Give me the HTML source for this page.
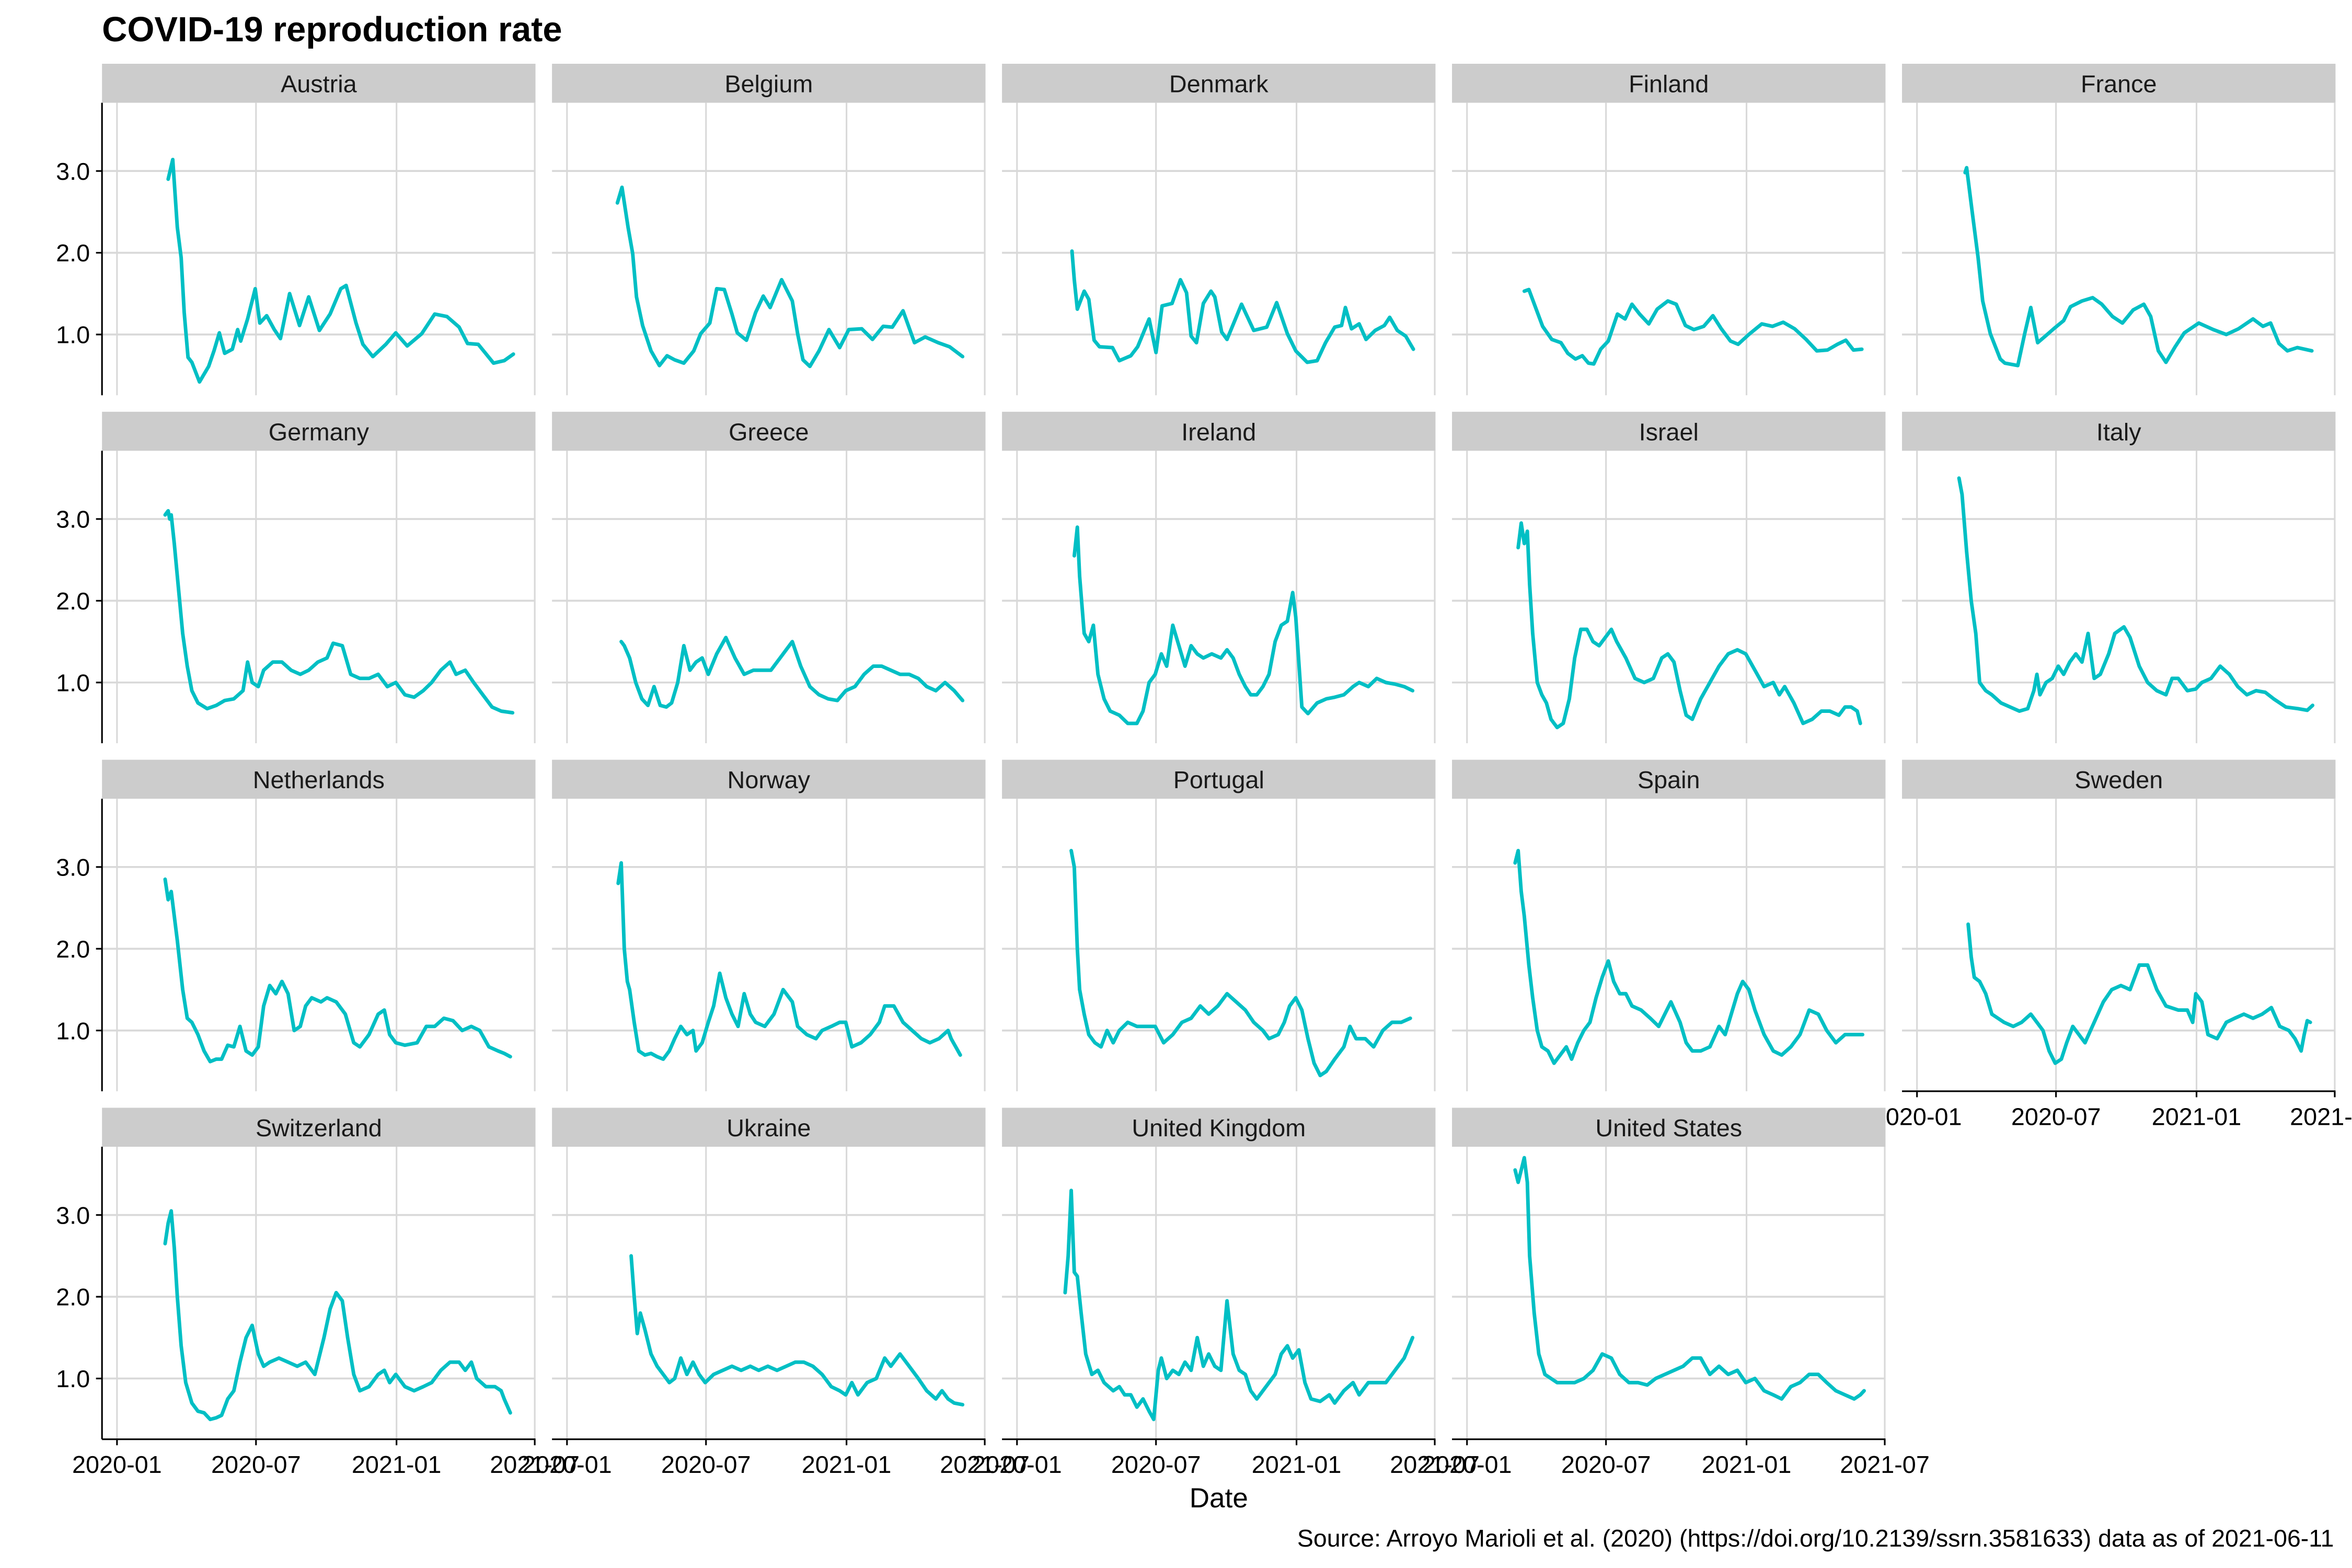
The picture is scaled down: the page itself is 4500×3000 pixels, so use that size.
<!DOCTYPE html>
<html><head><meta charset="utf-8"><style>
html,body{margin:0;padding:0;background:#fff;}
svg{display:block;font-family:"Liberation Sans",Arial,sans-serif;}
</style></head><body>
<svg id="chart" xmlns="http://www.w3.org/2000/svg" width="4500" height="3000" viewBox="0 0 1568 1045.33">
<rect x="0" y="0" width="1568" height="1045.33" fill="#fff"/>
<text x="68" y="27.5" font-size="23.3" font-weight="bold" fill="#000">COVID-19 reproduction rate</text>
<g id="panels"></g>
<text x="812.5" y="1005" font-size="18.5" text-anchor="middle" fill="#000">Date</text>
<text x="1556" y="1031" font-size="16.2" text-anchor="end" fill="#000">Source: Arroyo Marioli et al. (2020) (https://doi.org/10.2139/ssrn.3581633) data as of 2021-06-11</text>
</svg>
<script>
// Days since 2020-01-01 and reproduction rate values per country
const countries = ["Austria","Belgium","Denmark","Finland","France","Germany","Greece","Ireland","Israel","Italy","Netherlands","Norway","Portugal","Spain","Sweden","Switzerland","Ukraine","United Kingdom","United States"];
const yTicks = [1.0, 2.0, 3.0];
const yTickLabels = ["1.0", "2.0", "3.0"];
const xTickDates = ["2020-01-01", "2020-07-01", "2021-01-01", "2021-07-01"];
const xTickLabels = ["2020-01", "2020-07", "2021-01", "2021-07"];

const austriaDays = [67,73,79,84,88,93,98,108,120,127,134,141,151,158,162,171,181,187,196,206,214,226,239,251,265,279,293,300,313,322,335,352,365,380,399,416,432,448,459,473,493,507,519];
const austriaValues = [2.9,3.14,2.31,1.94,1.27,0.72,0.66,0.42,0.61,0.8,1.02,0.77,0.82,1.06,0.92,1.19,1.56,1.14,1.23,1.06,0.95,1.5,1.11,1.46,1.05,1.25,1.56,1.6,1.14,0.88,0.73,0.88,1.02,0.86,1.01,1.25,1.22,1.09,0.89,0.88,0.65,0.68,0.76];
const belgiumDays = [66,72,80,86,91,99,110,121,131,141,153,166,175,187,196,206,216,223,235,247,257,266,281,295,302,309,318,330,343,357,369,386,400,414,426,440,455,469,486,501,518];
const belgiumValues = [2.61,2.8,2.31,1.99,1.46,1.11,0.8,0.62,0.74,0.69,0.65,0.8,1.01,1.14,1.56,1.55,1.25,1.02,0.93,1.27,1.47,1.33,1.67,1.41,1.01,0.69,0.61,0.8,1.06,0.84,1.06,1.07,0.94,1.1,1.09,1.29,0.9,0.97,0.9,0.85,0.73];
const denmarkDays = [72,75,79,88,94,101,108,125,134,149,158,173,182,190,203,214,222,228,235,244,254,259,268,275,294,310,327,340,354,365,380,393,404,416,425,430,438,448,457,469,481,488,498,509,519];
const denmarkValues = [2.02,1.67,1.31,1.53,1.43,0.93,0.85,0.84,0.68,0.74,0.85,1.19,0.78,1.35,1.38,1.67,1.51,0.98,0.9,1.38,1.53,1.46,1.03,0.94,1.37,1.05,1.09,1.39,1.01,0.8,0.66,0.68,0.9,1.09,1.11,1.33,1.07,1.13,0.94,1.05,1.11,1.21,1.05,0.98,0.82];
const finlandDays = [75,81,89,99,111,123,132,142,151,159,166,175,185,197,207,216,226,238,249,263,274,286,297,310,322,333,345,355,369,386,400,414,429,444,458,472,485,496,506,517];
const finlandValues = [1.53,1.55,1.35,1.1,0.94,0.9,0.77,0.7,0.74,0.65,0.64,0.82,0.92,1.25,1.19,1.37,1.25,1.13,1.31,1.41,1.37,1.11,1.06,1.1,1.23,1.07,0.92,0.88,1.0,1.13,1.1,1.15,1.07,0.94,0.8,0.81,0.88,0.93,0.81,0.82];
const franceDays = [63,65,72,80,86,96,109,115,132,141,149,158,168,179,192,201,216,230,242,256,269,283,297,306,316,326,338,350,369,388,405,421,440,453,463,474,485,498,517];
const franceValues = [2.98,3.04,2.52,1.94,1.41,1.01,0.7,0.65,0.62,1.01,1.33,0.9,0.98,1.07,1.17,1.34,1.41,1.45,1.37,1.22,1.14,1.3,1.37,1.22,0.8,0.66,0.85,1.02,1.14,1.06,1.0,1.07,1.19,1.1,1.14,0.89,0.8,0.84,0.8];
const germanyDays = [63,67,69,71,75,81,86,92,98,106,118,130,141,153,165,171,177,185,192,204,216,228,240,251,263,275,283,295,306,318,330,342,354,365,377,389,401,412,424,436,444,456,467,479,491,503,518];
const germanyValues = [3.05,3.1,3.0,3.05,2.7,2.1,1.6,1.2,0.9,0.75,0.68,0.72,0.78,0.8,0.9,1.25,1.0,0.95,1.15,1.25,1.25,1.15,1.1,1.15,1.25,1.3,1.48,1.45,1.1,1.05,1.05,1.1,0.95,1.0,0.85,0.82,0.9,1.0,1.15,1.25,1.1,1.15,1.0,0.85,0.7,0.65,0.63];
const greeceDays = [71,75,82,90,98,106,114,122,130,137,145,153,161,169,177,185,196,208,220,232,244,255,267,279,295,306,318,330,342,354,365,377,389,401,412,424,436,448,460,471,483,495,507,518];
const greeceValues = [1.5,1.45,1.3,1.0,0.8,0.72,0.95,0.72,0.7,0.75,1.0,1.45,1.15,1.25,1.3,1.1,1.35,1.55,1.3,1.1,1.15,1.15,1.15,1.3,1.5,1.2,0.95,0.85,0.8,0.78,0.9,0.95,1.1,1.2,1.2,1.15,1.1,1.1,1.05,0.95,0.9,1.0,0.9,0.78];
const irelandDays = [75,79,82,88,94,100,106,114,122,134,145,157,165,173,181,189,196,204,212,220,228,236,244,255,267,275,283,291,299,306,314,322,330,338,346,354,361,365,373,381,393,405,416,428,440,448,460,471,483,495,507,518];
const irelandValues = [2.55,2.9,2.3,1.6,1.5,1.7,1.1,0.8,0.65,0.6,0.5,0.5,0.65,1.0,1.1,1.35,1.2,1.7,1.45,1.2,1.45,1.35,1.3,1.35,1.3,1.4,1.3,1.1,0.95,0.85,0.85,0.95,1.1,1.5,1.7,1.75,2.1,1.8,0.7,0.62,0.75,0.8,0.82,0.85,0.95,1.0,0.95,1.05,1.0,0.98,0.95,0.9];
const israelDays = [67,71,75,79,82,86,92,98,104,110,118,126,134,141,149,157,165,173,181,189,196,208,220,232,244,255,263,271,279,287,295,306,318,330,342,354,365,377,389,401,409,416,428,440,452,464,475,487,495,503,511,515];
const israelValues = [2.65,2.95,2.7,2.85,2.2,1.6,1.0,0.85,0.75,0.55,0.45,0.5,0.8,1.3,1.65,1.65,1.5,1.45,1.55,1.65,1.5,1.3,1.05,1.0,1.05,1.3,1.35,1.25,0.9,0.6,0.55,0.8,1.0,1.2,1.35,1.4,1.35,1.15,0.95,1.0,0.85,0.95,0.75,0.5,0.55,0.65,0.65,0.6,0.7,0.7,0.65,0.5];
const italyDays = [55,59,65,71,77,82,90,98,110,122,134,145,153,157,161,169,177,185,192,200,208,216,224,232,240,251,259,271,279,291,302,314,326,334,342,354,365,373,385,397,409,420,432,444,456,467,483,499,511,518];
const italyValues = [3.5,3.3,2.6,2.0,1.6,1.0,0.9,0.85,0.75,0.7,0.65,0.68,0.9,1.1,0.85,1.0,1.05,1.2,1.1,1.25,1.35,1.25,1.6,1.05,1.1,1.35,1.6,1.68,1.55,1.2,1.0,0.9,0.85,1.05,1.05,0.9,0.92,1.0,1.05,1.2,1.1,0.95,0.85,0.9,0.88,0.8,0.7,0.68,0.66,0.72];
const netherlandsDays = [63,67,71,79,86,92,98,106,114,122,130,137,145,153,161,169,177,185,192,200,208,216,224,232,240,247,255,267,275,287,299,310,318,330,342,350,357,365,377,393,405,416,428,440,452,464,475,487,499,507,515];
const netherlandsValues = [2.85,2.6,2.7,2.1,1.5,1.15,1.1,0.95,0.75,0.62,0.65,0.65,0.82,0.8,1.05,0.75,0.7,0.8,1.3,1.55,1.45,1.6,1.45,1.0,1.05,1.3,1.4,1.35,1.4,1.35,1.2,0.85,0.8,0.95,1.2,1.25,0.95,0.85,0.82,0.85,1.05,1.05,1.15,1.12,1.0,1.05,1.0,0.8,0.75,0.72,0.68];
const norwayDays = [67,71,75,79,82,88,94,102,110,118,126,134,141,149,157,165,169,177,185,192,200,208,216,224,232,240,247,259,271,283,295,302,314,326,334,346,357,365,373,385,397,409,416,428,440,452,464,475,487,499,503,515];
const norwayValues = [2.8,3.05,2.0,1.6,1.5,1.1,0.75,0.7,0.72,0.68,0.65,0.75,0.9,1.05,0.95,1.0,0.75,0.85,1.1,1.3,1.7,1.4,1.2,1.05,1.45,1.2,1.1,1.05,1.2,1.5,1.35,1.05,0.95,0.9,1.0,1.05,1.1,1.1,0.8,0.85,0.95,1.1,1.3,1.3,1.1,1.0,0.9,0.85,0.9,1.0,0.9,0.7];
const portugalDays = [71,75,79,82,88,94,102,110,118,126,134,145,157,169,181,192,204,216,228,240,251,263,275,287,299,310,322,330,342,350,357,365,373,381,389,397,405,416,428,436,444,456,467,479,491,503,515];
const portugalValues = [3.2,3.0,2.0,1.5,1.2,0.95,0.85,0.8,1.0,0.85,1.0,1.1,1.05,1.05,1.05,0.85,0.95,1.1,1.15,1.3,1.2,1.3,1.45,1.35,1.25,1.1,1.0,0.9,0.95,1.1,1.3,1.4,1.25,0.9,0.6,0.45,0.5,0.65,0.8,1.05,0.9,0.9,0.8,1.0,1.1,1.1,1.15];
const spainDays = [63,67,71,75,81,86,92,98,106,114,122,130,137,145,153,161,169,177,185,192,200,208,216,228,240,251,259,267,279,287,295,306,318,330,338,346,354,361,369,377,389,401,412,424,436,448,460,471,483,495,511,518];
const spainValues = [3.05,3.2,2.7,2.4,1.8,1.4,1.0,0.8,0.75,0.6,0.7,0.8,0.65,0.85,1.0,1.1,1.4,1.65,1.85,1.6,1.45,1.45,1.3,1.25,1.15,1.05,1.2,1.35,1.1,0.85,0.75,0.75,0.8,1.05,0.95,1.2,1.45,1.6,1.5,1.25,0.95,0.75,0.7,0.8,0.95,1.25,1.2,1.0,0.85,0.95,0.95,0.95];
const swedenDays = [67,71,75,82,90,98,106,114,126,137,149,157,165,173,181,189,196,204,212,220,232,244,255,267,279,291,302,314,326,342,354,361,365,373,381,393,405,416,428,440,452,464,475,487,495,503,507,511,515];
const swedenValues = [2.3,1.9,1.65,1.6,1.45,1.2,1.15,1.1,1.05,1.1,1.2,1.1,1.0,0.75,0.6,0.65,0.85,1.05,0.95,0.85,1.1,1.35,1.5,1.55,1.5,1.8,1.8,1.5,1.3,1.25,1.25,1.1,1.45,1.35,0.95,0.9,1.1,1.15,1.2,1.15,1.2,1.28,1.05,1.0,0.9,0.75,0.95,1.12,1.1];
const switzerlandDays = [63,67,71,75,79,84,90,98,106,114,122,130,137,145,153,161,169,177,185,192,200,212,224,236,247,259,271,279,287,295,302,310,318,330,342,350,357,365,377,389,401,412,424,436,448,456,464,471,483,495,503,507,515];
const switzerlandValues = [2.65,2.9,3.05,2.6,2.0,1.4,0.95,0.7,0.6,0.58,0.5,0.52,0.55,0.75,0.85,1.2,1.5,1.65,1.3,1.15,1.2,1.25,1.2,1.15,1.2,1.05,1.5,1.85,2.05,1.95,1.5,1.05,0.85,0.9,1.05,1.1,0.95,1.05,0.9,0.85,0.9,0.95,1.1,1.2,1.2,1.1,1.2,1.0,0.9,0.9,0.85,0.75,0.58];
const ukraineDays = [84,88,92,96,102,110,118,126,134,141,149,157,165,173,181,192,204,216,228,240,251,263,275,287,299,310,322,334,346,357,365,373,381,393,405,416,424,436,448,460,471,483,491,499,507,518];
const ukraineValues = [2.5,2.0,1.55,1.8,1.6,1.3,1.15,1.05,0.95,1.0,1.25,1.05,1.2,1.05,0.95,1.05,1.1,1.15,1.1,1.15,1.1,1.15,1.1,1.15,1.2,1.2,1.15,1.05,0.9,0.85,0.8,0.95,0.8,0.95,1.0,1.25,1.15,1.3,1.15,1.0,0.85,0.75,0.85,0.75,0.7,0.68];
const ukDays = [63,67,71,75,79,84,90,98,106,114,126,134,141,149,157,165,173,179,185,189,196,204,212,220,228,236,244,251,259,267,275,283,291,299,306,314,326,338,346,354,361,369,377,385,397,409,416,428,440,448,460,471,483,495,507,518];
const ukValues = [2.05,2.5,3.3,2.3,2.25,1.8,1.3,1.05,1.1,0.95,0.85,0.9,0.8,0.8,0.65,0.75,0.6,0.5,1.1,1.25,1.0,1.1,1.05,1.2,1.1,1.5,1.15,1.3,1.15,1.1,1.95,1.3,1.1,1.05,0.85,0.75,0.9,1.05,1.3,1.4,1.25,1.35,0.95,0.75,0.72,0.8,0.7,0.85,0.95,0.8,0.95,0.95,0.95,1.1,1.25,1.5];
const usDays = [63,67,71,75,79,82,88,94,102,110,118,130,141,153,165,177,189,200,212,224,236,247,259,271,283,295,306,318,330,342,354,365,377,389,401,412,424,436,448,460,471,483,495,507,515,520];
const usValues = [3.55,3.4,3.55,3.7,3.4,2.5,1.8,1.3,1.05,1.0,0.95,0.95,0.95,1.0,1.1,1.3,1.25,1.05,0.95,0.95,0.92,1.0,1.05,1.1,1.15,1.25,1.25,1.05,1.15,1.05,1.1,0.95,1.0,0.85,0.8,0.75,0.9,0.95,1.05,1.05,0.95,0.85,0.8,0.75,0.8,0.85];

const seriesDays = [austriaDays,belgiumDays,denmarkDays,finlandDays,franceDays,germanyDays,greeceDays,irelandDays,israelDays,italyDays,netherlandsDays,norwayDays,portugalDays,spainDays,swedenDays,switzerlandDays,ukraineDays,ukDays,usDays];
const seriesValues = [austriaValues,belgiumValues,denmarkValues,finlandValues,franceValues,germanyValues,greeceValues,irelandValues,israelValues,italyValues,netherlandsValues,norwayValues,portugalValues,spainValues,swedenValues,switzerlandValues,ukraineValues,ukValues,usValues];

const NS = "http://www.w3.org/2000/svg";
const root = document.getElementById("panels");
const PW = 289, PH = 195, SH = 26;
const DAY0 = Date.UTC(2020,0,1);
function dateToDay(s){ const p=s.split("-"); return (Date.UTC(+p[0],+p[1]-1,+p[2]) - DAY0)/86400000; }
const X_LEFT_DAY = dateToDay("2020-01-01"), X_RIGHT_DAY = dateToDay("2021-07-01");
function xScale(day, left){ return left + 10 + (day - X_LEFT_DAY) / (X_RIGHT_DAY - X_LEFT_DAY) * 278.5; }
function yScale(v, top){ return top + 154.5 - (v - 1) * 54.5; }
function mk(tag, attrs, parent){ const e=document.createElementNS(NS,tag); for(const k in attrs) e.setAttribute(k,attrs[k]); parent.appendChild(e); return e; }

countries.forEach(function(name, i){
  const col = i % 5, row = Math.floor(i / 5);
  const left = 68 + col * 300;
  const stripTop = 42.5 + row * 232;
  const top = stripTop + SH;
  const slug = name.toLowerCase().replace(/ /g, "-");
  const g = mk("g", {}, root);
  
  
  const strip = mk("rect", {x:left, y:stripTop, width:PW, height:SH, fill:"#cccccc"}, g);
  
  
  const st = mk("text", {x:left + PW/2, y:stripTop + 19, "font-size":16.3, "text-anchor":"middle", fill:"#1a1a1a"}, g);
  st.textContent = name;
  
  
  yTicks.forEach(function(t){
    const y = yScale(t, top);
    const gl = mk("line", {x1:left, x2:left+PW, y1:y, y2:y, stroke:"#d9d9d9", "stroke-width":1.3}, g);
    
    
  });
  xTickDates.forEach(function(d){
    const x = xScale(dateToDay(d), left);
    const gl = mk("line", {x1:x, x2:x, y1:top, y2:top+PH, stroke:"#d9d9d9", "stroke-width":1.1}, g);
    
    
  });
  const days = seriesDays[i], vals = seriesValues[i];
  const n = Math.min(days.length, vals.length);
  let dstr = "";
  for (let k = 0; k < n; k++) dstr += (k ? "L" : "M") + xScale(days[k], left).toFixed(2) + "," + yScale(vals[k], top).toFixed(2);
  const path = mk("path", {d:dstr, fill:"none", stroke:"#00BFC4", "stroke-width":2.4, "stroke-linejoin":"round", "stroke-linecap":"round"}, g);
  
  
  if (col === 0) {
    const ax = mk("line", {x1:left, x2:left, y1:top, y2:top+PH, stroke:"#000", "stroke-width":1.1}, g);
    
    
    yTicks.forEach(function(t, k){
      const y = yScale(t, top);
      const tk = mk("line", {x1:left-4, x2:left, y1:y, y2:y, stroke:"#000", "stroke-width":1.1}, g);
      
      
      const lb = mk("text", {x:left-8, y:y+5.8, "font-size":16.3, "text-anchor":"end", fill:"#000"}, g);
      lb.textContent = yTickLabels[k];
      
      
    });
  }
  if (row === 3 || (row === 2 && col === 4)) {
    const by = top + PH;
    const ax = mk("line", {x1:left, x2:left+PW, y1:by, y2:by, stroke:"#000", "stroke-width":1.1}, g);
    
    
    xTickDates.forEach(function(d, k){
      const x = xScale(dateToDay(d), left);
      const tk = mk("line", {x1:x, x2:x, y1:by, y2:by+4, stroke:"#000", "stroke-width":1.1}, g);
      
      
      const lb = mk("text", {x:x, y:by+22.5, "font-size":16.3, "text-anchor":"middle", fill:"#000"}, g);
      lb.textContent = xTickLabels[k];
      
      
    });
  }
});
</script>
</body></html>
